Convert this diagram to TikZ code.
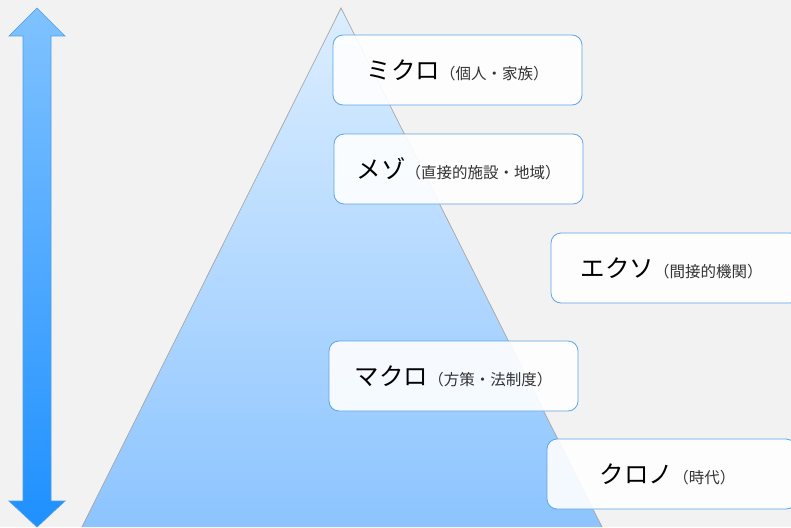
\documentclass[tikz,border=0pt]{standalone}
\usepackage{fontspec}
\newfontfamily\jp{Noto Sans CJK JP}
\definecolor{bg}{HTML}{F2F2F2}
\definecolor{boxline}{HTML}{5DA5E8}
\definecolor{tritop}{HTML}{DCEEFF}
\definecolor{tribot}{HTML}{8CC4FF}
\definecolor{arrtop}{HTML}{80C2FF}
\definecolor{arrbot}{HTML}{1E90FF}
\definecolor{arrline}{HTML}{4A9FE8}
\definecolor{subtxt}{HTML}{333333}
\tikzset{
  levelbox/.style={draw=boxline, line width=0.8pt, fill=white, fill opacity=0.9, text opacity=1,
    rounded corners=10pt, minimum width=249pt, minimum height=70pt, inner sep=0pt, font=\jp},
}
\newcommand{\lvlmain}[1]{{\fontsize{24.5}{26}\selectfont #1}}
\newcommand{\lvlsub}[1]{{\fontsize{15.5}{17}\selectfont\color{subtxt}#1}}
\begin{document}
\begin{tikzpicture}[x=1pt,y=-1pt]
\fill[bg] (0,0) rectangle (791,527);
\clip (0,0) rectangle (791,527);
% triangle
\shade[top color=tritop, bottom color=tribot] (341,8) -- (602,527) -- (82,527) -- cycle;
\draw[gray!70, line width=0.7pt] (82,527) -- (341,8) -- (602,527);
% double arrow
\shade[top color=arrtop, bottom color=arrbot]
  (37,8) -- (65,36) -- (51,36) -- (51,501) -- (65,501) -- (37,527) -- (9,501) -- (23,501) -- (23,36) -- (9,36) -- cycle;
\draw[arrline, line width=0.7pt]
  (37,8) -- (65,36) -- (51,36) -- (51,501) -- (65,501) -- (37,527) -- (9,501) -- (23,501) -- (23,36) -- (9,36) -- cycle;
% boxes
\node[levelbox] (mikuro) at (457.5,70) {\lvlmain{ミクロ}\lvlsub{（個人・家族）}};
\node[levelbox] (mezo) at (458.5,169) {\lvlmain{メゾ}\lvlsub{（直接的施設・地域）}};
\node[levelbox] (ekuso) at (675.5,268) {\hspace{-8pt}\lvlmain{エクソ}\lvlsub{（間接的機関）}};
\node[levelbox] (makuro) at (453.5,376) {\lvlmain{マクロ}\lvlsub{（方策・法制度）}};
\node[levelbox] (kurono) at (671.5,474) {\hspace{-8pt}\lvlmain{クロノ}\lvlsub{（時代）}};
\end{tikzpicture}
\end{document}
